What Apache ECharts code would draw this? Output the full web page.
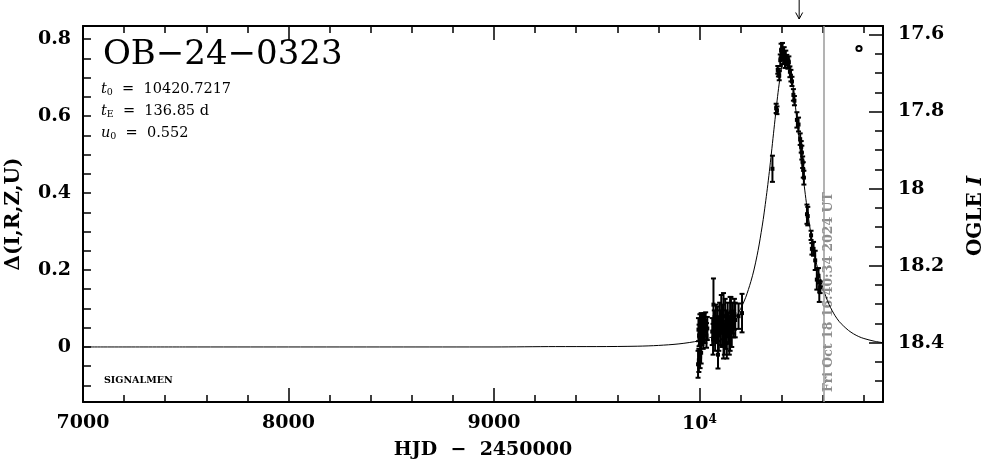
<!DOCTYPE html>
<html><head><meta charset="utf-8">
<script src="https://cdn.jsdelivr.net/npm/echarts@6/dist/echarts.min.js"></script>
<style>html,body{margin:0;padding:0;background:#fff}#c{width:986px;height:459px}</style>
</head><body><div id="c"></div>
<script>
// ---- data ----
const xTickLabels = [7000, 8000, 9000, 10000];
const xMinorTicks = [7200, 7400, 7600, 7800, 8200, 8400, 8600, 8800, 9200, 9400, 9600, 9800, 10200, 10400, 10600, 10800];
const yLeftLabels = [0, 0.2, 0.4, 0.6, 0.8];
const yLeftTicks = [-0.1, -0.05, 0, 0.05, 0.1, 0.15, 0.2, 0.25, 0.3, 0.35, 0.4, 0.45, 0.5, 0.55, 0.6, 0.65, 0.7, 0.75, 0.8];
const yRightLabels = [17.6, 17.8, 18, 18.2, 18.4];
const yRightMinor = [17.65, 17.7, 17.75, 17.85, 17.9, 17.95, 18.05, 18.1, 18.15, 18.25, 18.3, 18.35, 18.45, 18.5];

const modelT = [7000, 7500, 8000, 8500, 9000, 9300, 9500, 9700, 9800, 9900, 10000, 10050, 10100, 10150, 10175, 10200, 10225, 10250, 10265, 10280, 10290, 10300, 10310, 10320, 10330, 10340, 10350, 10360, 10370, 10380, 10390, 10400, 10410, 10420, 10430, 10440, 10450, 10460, 10470, 10480, 10490, 10500, 10510, 10520, 10530, 10540, 10550, 10560, 10570, 10580, 10590, 10600, 10615, 10630, 10645, 10660, 10680, 10700, 10725, 10750, 10775, 10800, 10850, 10893];
const modelD = [0.000, 0.000, 0.000, 0.000, 0.000, 0.001, 0.001, 0.002, 0.004, 0.008, 0.016, 0.024, 0.037, 0.059, 0.076, 0.099, 0.129, 0.170, 0.200, 0.237, 0.265, 0.297, 0.331, 0.370, 0.411, 0.456, 0.504, 0.554, 0.603, 0.651, 0.693, 0.728, 0.750, 0.759, 0.753, 0.732, 0.699, 0.657, 0.610, 0.561, 0.511, 0.463, 0.418, 0.375, 0.337, 0.301, 0.270, 0.241, 0.215, 0.193, 0.172, 0.154, 0.131, 0.111, 0.095, 0.081, 0.066, 0.055, 0.043, 0.034, 0.027, 0.022, 0.015, 0.011];

const obsT = [9995, 9998, 10002, 10005, 10008, 10012, 10015, 10018, 10022, 10026, 10030, 10034, 10038,
  9993, 9997, 10003, 10008,
  10062, 10066, 10068, 10072, 10076, 10080, 10084, 10088, 10090, 10094, 10098, 10102, 10106, 10110, 10114, 10117, 10121, 10125, 10129, 10133, 10137, 10141, 10145, 10149, 10153, 10157, 10162, 10166, 10170, 10174, 10190, 10207,
  10355, 10373, 10377, 10381, 10384, 10388, 10393, 10397, 10400, 10404, 10408, 10412, 10416, 10420, 10425, 10430, 10435, 10440, 10445, 10450, 10457, 10462, 10474, 10482, 10490, 10495, 10498, 10502, 10505, 10508, 10523, 10527, 10543, 10547, 10555, 10563, 10571, 10579, 10583, 10587];
const obsD = [0.045, 0.030, 0.055, 0.040, 0.060, 0.035, 0.050, 0.025, 0.058, 0.040, 0.065, 0.030, 0.048,
  -0.045, -0.035, -0.025, -0.015,
  0.040, 0.020, 0.110, 0.055, 0.035, 0.070, 0.045, 0.060, -0.020, 0.030, 0.075, 0.050, 0.085, 0.040, 0.065, 0.055, 0.020, 0.080, 0.045, 0.010, 0.070, 0.050, 0.030, 0.060, 0.090, 0.045, 0.075, 0.060, 0.085, 0.070, 0.080, 0.088,
  0.463, 0.620, 0.615, 0.720, 0.713, 0.705, 0.745, 0.770, 0.760, 0.775, 0.750, 0.765, 0.740, 0.755, 0.745, 0.735, 0.740, 0.715, 0.705, 0.690, 0.655, 0.640, 0.590, 0.578, 0.540, 0.520, 0.505, 0.480, 0.460, 0.440, 0.345, 0.340, 0.290, 0.255, 0.255, 0.225, 0.175, 0.185, 0.145, 0.155];
const obsE = [0.030, 0.028, 0.030, 0.032, 0.028, 0.030, 0.035, 0.030, 0.030, 0.030, 0.025, 0.032, 0.030,
  0.035, 0.030, 0.030, 0.028,
  0.035, 0.040, 0.068, 0.040, 0.045, 0.040, 0.035, 0.045, 0.036, 0.040, 0.040, 0.045, 0.050, 0.040, 0.045, 0.085, 0.040, 0.045, 0.050, 0.040, 0.045, 0.040, 0.050, 0.070, 0.040, 0.045, 0.040, 0.035, 0.040, 0.045, 0.033, 0.050,
  0.034, 0.012, 0.010, 0.010, 0.010, 0.012, 0.015, 0.018, 0.015, 0.015, 0.015, 0.014, 0.015, 0.015, 0.014, 0.012, 0.015, 0.014, 0.015, 0.012, 0.015, 0.012, 0.020, 0.018, 0.015, 0.015, 0.018, 0.015, 0.020, 0.018, 0.025, 0.024, 0.012, 0.015, 0.018, 0.025, 0.026, 0.020, 0.028, 0.015];

const dateLineT = 10603;
const arrowT = 10485;
const titleText = 'OB\u221224\u22120323';
const t0Text = '10420.7217';
const tEText = '136.85 d';
const u0Text = '0.552';
const dateText = 'Fri Oct 18 16:40:34 2024 UT';
const xName = 'HJD  \u2212  2450000';
const yLeftName = '\u0394(I,R,Z,U)';

// ---- chart ----
const SERIF = '"DejaVu Serif", "Liberation Serif", serif';
const G = {left: 83, right: 103, top: 26, bottom: 57};
const XMIN = 7000, XMAX = 10893, YMIN = -0.143, YMAX = 0.834, MMIN = 17.578, MMAX = 18.554;
const lblStyle = {color: '#000', fontFamily: SERIF, fontWeight: 'bold', fontSize: 19};
const axLine = {show: true, onZero: false, lineStyle: {color: '#000', width: 2}};

const chart = echarts.init(document.getElementById('c'), null, {renderer: 'canvas'});
const hiddenX = (pos, grid, ticks, len) => ({
  type: 'value', gridIndex: grid, position: pos, min: XMIN, max: XMAX,
  axisLine: {show: false, onZero: false}, splitLine: {show: false}, axisLabel: {show: false},
  axisTick: ticks ? {show: true, inside: true, length: len, customValues: ticks, lineStyle: {color: '#000', width: 1.5}} : {show: false}
});
chart.setOption({
  animation: false,
  backgroundColor: '#fff',
  grid: [Object.assign({}, G), Object.assign({}, G)],
  xAxis: [
    {type: 'value', gridIndex: 0, position: 'bottom', min: XMIN, max: XMAX,
     axisLine: axLine, splitLine: {show: false},
     axisTick: {show: true, inside: true, length: 14, customValues: xTickLabels, lineStyle: {color: '#000', width: 1.5}},
     axisLabel: {show: true, customValues: xTickLabels, margin: 12,
       formatter: v => v === 10000 ? '{b|10}{s|4}' : '{b|' + v + '}',
       rich: {b: lblStyle, s: {color: '#000', fontFamily: SERIF, fontWeight: 'bold', fontSize: 12, padding: [0, 0, 9, 0]}}}},
    {type: 'value', gridIndex: 0, position: 'top', min: XMIN, max: XMAX,
     axisLine: axLine, splitLine: {show: false}, axisLabel: {show: false},
     axisTick: {show: true, inside: true, length: 14, customValues: xTickLabels, lineStyle: {color: '#000', width: 1.5}}},
    hiddenX('bottom', 1, xMinorTicks, 7),
    hiddenX('top', 1, xMinorTicks, 7)
  ],
  yAxis: [
    {type: 'value', gridIndex: 0, position: 'left', min: YMIN, max: YMAX,
     axisLine: axLine, splitLine: {show: false},
     axisTick: {show: true, inside: true, length: 8, customValues: yLeftTicks, lineStyle: {color: '#000', width: 1.5}},
     axisLabel: Object.assign({show: true, customValues: yLeftLabels, margin: 12}, lblStyle)},
    {type: 'value', gridIndex: 0, position: 'right', inverse: true, min: MMIN, max: MMAX,
     axisLine: axLine, splitLine: {show: false},
     axisTick: {show: true, inside: true, length: 14, customValues: yRightLabels, lineStyle: {color: '#000', width: 1.5}},
     axisLabel: Object.assign({show: true, customValues: yRightLabels, margin: 15, formatter: v => String(v)}, lblStyle)},
    {type: 'value', gridIndex: 1, position: 'right', inverse: true, min: MMIN, max: MMAX,
     axisLine: {show: false, onZero: false}, splitLine: {show: false}, axisLabel: {show: false},
     axisTick: {show: true, inside: true, length: 8, customValues: yRightMinor, lineStyle: {color: '#000', width: 1.5}}}
  ],
  series: [
    {type: 'line', xAxisIndex: 0, yAxisIndex: 0, data: modelT.map((t, i) => [t, modelD[i]]),
     showSymbol: false, smooth: 0.3, lineStyle: {color: '#000', width: 1}, silent: true,
     markLine: {silent: true, symbol: 'none', label: {show: false},
       lineStyle: {color: '#9a9a9a', width: 1.5, type: 'solid'}, data: [{xAxis: dateLineT}]}},
    {type: 'custom', xAxisIndex: 0, yAxisIndex: 0, silent: true,
     data: obsT.map((t, i) => [t, obsD[i], obsE[i]]),
     encode: {x: 0, y: 1},
     renderItem: (params, api) => {
       const t = api.value(0), d = api.value(1), e = api.value(2);
       const top = api.coord([t, d + e]), bot = api.coord([t, d - e]), c = api.coord([t, d]);
       const cw = 2.5;
       const st = {stroke: '#000', lineWidth: 2};
       return {type: 'group', children: [
         {type: 'line', shape: {x1: top[0], y1: top[1], x2: bot[0], y2: bot[1]}, style: st},
         {type: 'line', shape: {x1: top[0] - cw, y1: top[1], x2: top[0] + cw, y2: top[1]}, style: st},
         {type: 'line', shape: {x1: bot[0] - cw, y1: bot[1], x2: bot[0] + cw, y2: bot[1]}, style: st},
         {type: 'rect', shape: {x: c[0] - 2, y: c[1] - 2, width: 4, height: 4}, style: {fill: '#000'}}
       ]};
     }}
  ]
});

const arrowX = chart.convertToPixel({xAxisIndex: 0}, arrowT);
const mono = {fontFamily: SERIF, fontSize: 14.5, fill: '#000'};
const paramRich = {
  i: {fontFamily: SERIF, fontStyle: 'italic', fontSize: 14.5, fill: '#000'},
  s: {fontFamily: SERIF, fontSize: 9.5, fill: '#000', padding: [7, 0, 0, 0]},
  n: mono
};
chart.setOption({
  graphic: [
    {type: 'text', x: 103, y: 55, style: {text: titleText, fontFamily: SERIF, fontSize: 34, fill: '#000', textVerticalAlign: 'middle'}},
    {type: 'text', x: 101, y: 89, style: {text: '{i|t}{s|0}{n|  =  ' + t0Text + '}', rich: paramRich, textVerticalAlign: 'middle'}},
    {type: 'text', x: 101, y: 111, style: {text: '{i|t}{s|E}{n|  =  ' + tEText + '}', rich: paramRich, textVerticalAlign: 'middle'}},
    {type: 'text', x: 101, y: 133, style: {text: '{i|u}{s|0}{n|  =  ' + u0Text + '}', rich: paramRich, textVerticalAlign: 'middle'}},
    {type: 'text', x: 104, y: 381, style: {text: 'SIGNALMEN', fontFamily: SERIF, fontSize: 9.5, fontWeight: 'bold', fill: '#000', textVerticalAlign: 'middle'}},
    {type: 'text', x: 483, y: 450, style: {text: xName, fontFamily: SERIF, fontSize: 19, fontWeight: 'bold', fill: '#000', textAlign: 'center', textVerticalAlign: 'middle'}},
    {type: 'text', x: 14, y: 214, rotation: Math.PI / 2, style: {text: yLeftName, fontFamily: SERIF, fontSize: 20, fontWeight: 'bold', fill: '#000', textAlign: 'center', textVerticalAlign: 'middle'}},
    {type: 'text', x: 976, y: 216, rotation: Math.PI / 2, style: {text: '{a|OGLE }{b|I}', textAlign: 'center', textVerticalAlign: 'middle',
      rich: {a: {fontFamily: SERIF, fontSize: 20, fontWeight: 'bold', fill: '#000'}, b: {fontFamily: SERIF, fontSize: 20, fontWeight: 'bold', fontStyle: 'italic', fill: '#000'}}}},
    {type: 'text', x: 829, y: 392, rotation: Math.PI / 2, style: {text: dateText, fontFamily: SERIF, fontSize: 12.5, fontWeight: 'bold', fill: '#8c8c8c', textAlign: 'left', textVerticalAlign: 'middle'}},
    {type: 'circle', shape: {cx: 859, cy: 48.5, r: 2.6}, style: {fill: 'none', stroke: '#000', lineWidth: 2}},
    {type: 'group', children: [
      {type: 'line', shape: {x1: arrowX, y1: 0, x2: arrowX, y2: 19}, style: {stroke: '#000', lineWidth: 1}},
      {type: 'polyline', shape: {points: [[arrowX - 3.5, 12.5], [arrowX, 19], [arrowX + 3.5, 12.5]]}, style: {stroke: '#000', lineWidth: 1, fill: 'none'}}
    ]}
  ]
});
</script>
</body></html>
